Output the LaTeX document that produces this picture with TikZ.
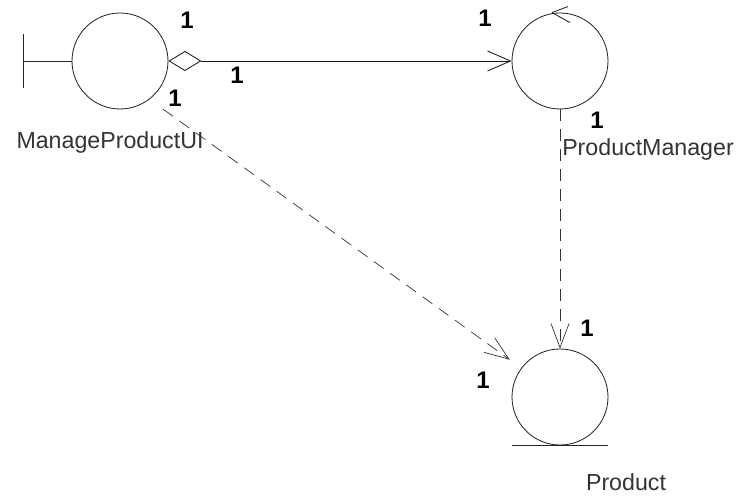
\documentclass[tikz,border=0pt]{standalone}
\usepackage{fontspec}
\setmainfont{Liberation Sans}
\usetikzlibrary{arrows.meta}

\begin{document}
\begin{tikzpicture}
    \tikzset{obj/.style={draw=black!85, circle, minimum size=2.4cm, inner sep=0pt, line width=.6pt},
             mult/.style={font=\fontsize{17}{17}\selectfont\bfseries},
             lbl/.style={text=black!80, font=\fontsize{16.5}{17}\selectfont},
             dep/.style={draw=black!80, line width=.5pt, dash pattern=on 3mm off 2mm,
                 -{Straight Barb[length=6mm,width=4.5mm]}}}

    \useasboundingbox (0,0) rectangle (18.4,12.425);

    \node[obj] (ui) at (3.0,10.9) {};
    \node[obj] (mgr) at (14.0,10.9) {};
    \node[obj] (prod) at (14.0,2.5) {};

    % boundary bar on the left
    \coordinate (bnd) at (0.575,10.9);
    \draw[draw=black!85, line width=.6pt] (bnd) -- (ui.west);
    \draw[draw=black!85, line width=.6pt] ([yshift=-.675cm]bnd) -- ([yshift=.675cm]bnd);

    % control arrow on top
    \draw[draw=black!85, line width=.6pt] ([xshift=-.2cm]mgr.north) -- ++(.4,.15)
        ([xshift=-.2cm]mgr.north) -- ++(.45,-.25);

    % entity underline
    \draw[draw=black!85, line width=.6pt] ([xshift=-1.2cm]prod.south) -- ([xshift=1.2cm]prod.south);

    \draw[draw=black!90, line width=.6pt,
        {Diamond[open,length=8.25mm,width=5mm]}-{Straight Barb[length=5.75mm,width=5mm]}] (ui) -- (mgr);
    \draw[dep] (mgr) -- (prod);
    \draw[dep] ([shift={(.225,-.35)}]ui.-45) -- ([shift={(-.4,.075)}]prod.135);

    \node[lbl] (uilbl) at (2.75,8.85) {ManageProductUI};
    \node[lbl] (mgrlbl) at (16.2,8.675) {ProductManager};
    \node[lbl] (prodlbl) at (15.65,0.375) {Product};

    \node[mult] (m1) at (4.675,11.925) {1};
    \node[mult] (m2) at (5.925,10.55) {1};
    \node[mult] (m3) at (4.375,9.975) {1};
    \node[mult] (m4) at (12.125,11.975) {1};
    \node[mult] (m5) at (14.925,9.425) {1};
    \node[mult] (m6) at (14.675,4.225) {1};
    \node[mult] (m7) at (12.075,2.925) {1};
\end{tikzpicture}
\end{document}
